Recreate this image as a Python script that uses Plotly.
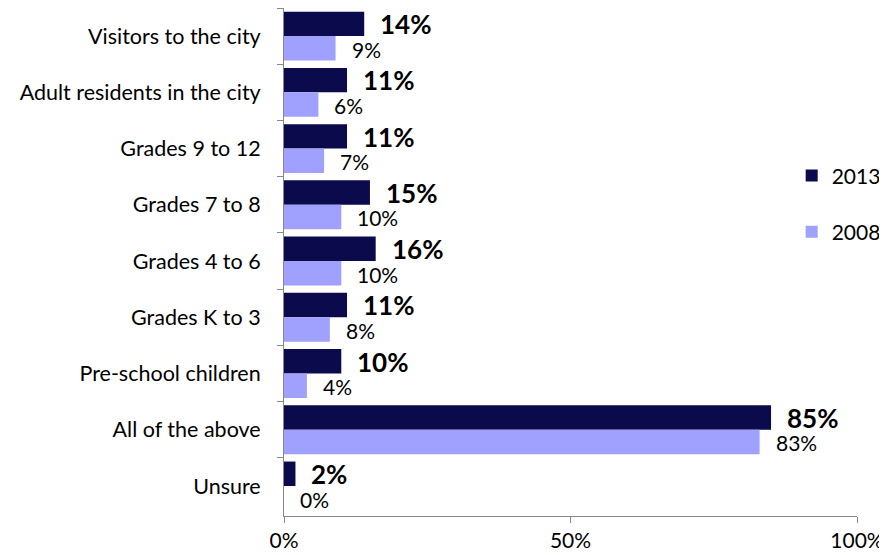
import plotly.graph_objects as go

categories = ["Visitors to the city", "Adult residents in the city", "Grades 9 to 12",
              "Grades 7 to 8", "Grades 4 to 6", "Grades K to 3", "Pre-school children",
              "All of the above", "Unsure"]
values_2013 = [14, 11, 11, 15, 16, 11, 10, 85, 2]
values_2008 = [9, 6, 7, 10, 10, 8, 4, 83, 0]
x_ticks = [0, 50, 100]
x_tick_labels = ["0%", "50%", "100%"]

C2013 = "#0A0A4C"
C2008 = "#A0A0FF"
FONT = "Lato"

fig = go.Figure()
fig.add_trace(go.Bar(y=categories, x=values_2013, orientation="h", name="2013",
                     marker=dict(color=C2013, line=dict(width=0)), legendgroup="a"))
fig.add_trace(go.Bar(y=categories, x=values_2008, orientation="h", name="2008",
                     marker=dict(color=C2008, line=dict(width=0)), legendgroup="b"))

# data labels (offset to the right of each bar, like Excel)
for cat, v in zip(categories, values_2013):
    fig.add_annotation(x=v, y=cat, text=f"<b>{v}%</b>", showarrow=False, xanchor="left",
                       xshift=14, yshift=12, font=dict(size=26, color="black", family=FONT))
for cat, v in zip(categories, values_2008):
    fig.add_annotation(x=v, y=cat, text=f"{v}%", showarrow=False, xanchor="left",
                       xshift=14, yshift=-13, font=dict(size=21, color="black", family=FONT))

# page body has an 8px margin, so the figure is sized to fit the window
fig.update_layout(
    width=879, height=547,
    margin=dict(l=276, r=30, t=0, b=39, autoexpand=False),
    barmode="group", bargap=0.13, bargroupgap=0,
    plot_bgcolor="white", paper_bgcolor="white",
    font=dict(family=FONT, size=21, color="black"),
    showlegend=True,
    legend=dict(x=0.886, y=0.71, xanchor="left", yanchor="top", tracegroupgap=26,
                font=dict(size=21), bgcolor="rgba(0,0,0,0)", itemwidth=30),
)
fig.update_xaxes(range=[0, 100], tickvals=x_ticks, ticktext=x_tick_labels,
                 showgrid=False, zeroline=False, showline=True, linecolor="#888888",
                 linewidth=1, ticks="outside", ticklen=6, tickcolor="#888888",
                 tickfont=dict(size=21))
fig.update_yaxes(autorange="reversed", showgrid=False, showline=True, linecolor="#888888",
                 linewidth=1, ticks="outside", ticklen=6, tickcolor="#888888",
                 tickson="boundaries", ticklabelstandoff=18, tickfont=dict(size=21.5))

fig.write_html("out.html")
